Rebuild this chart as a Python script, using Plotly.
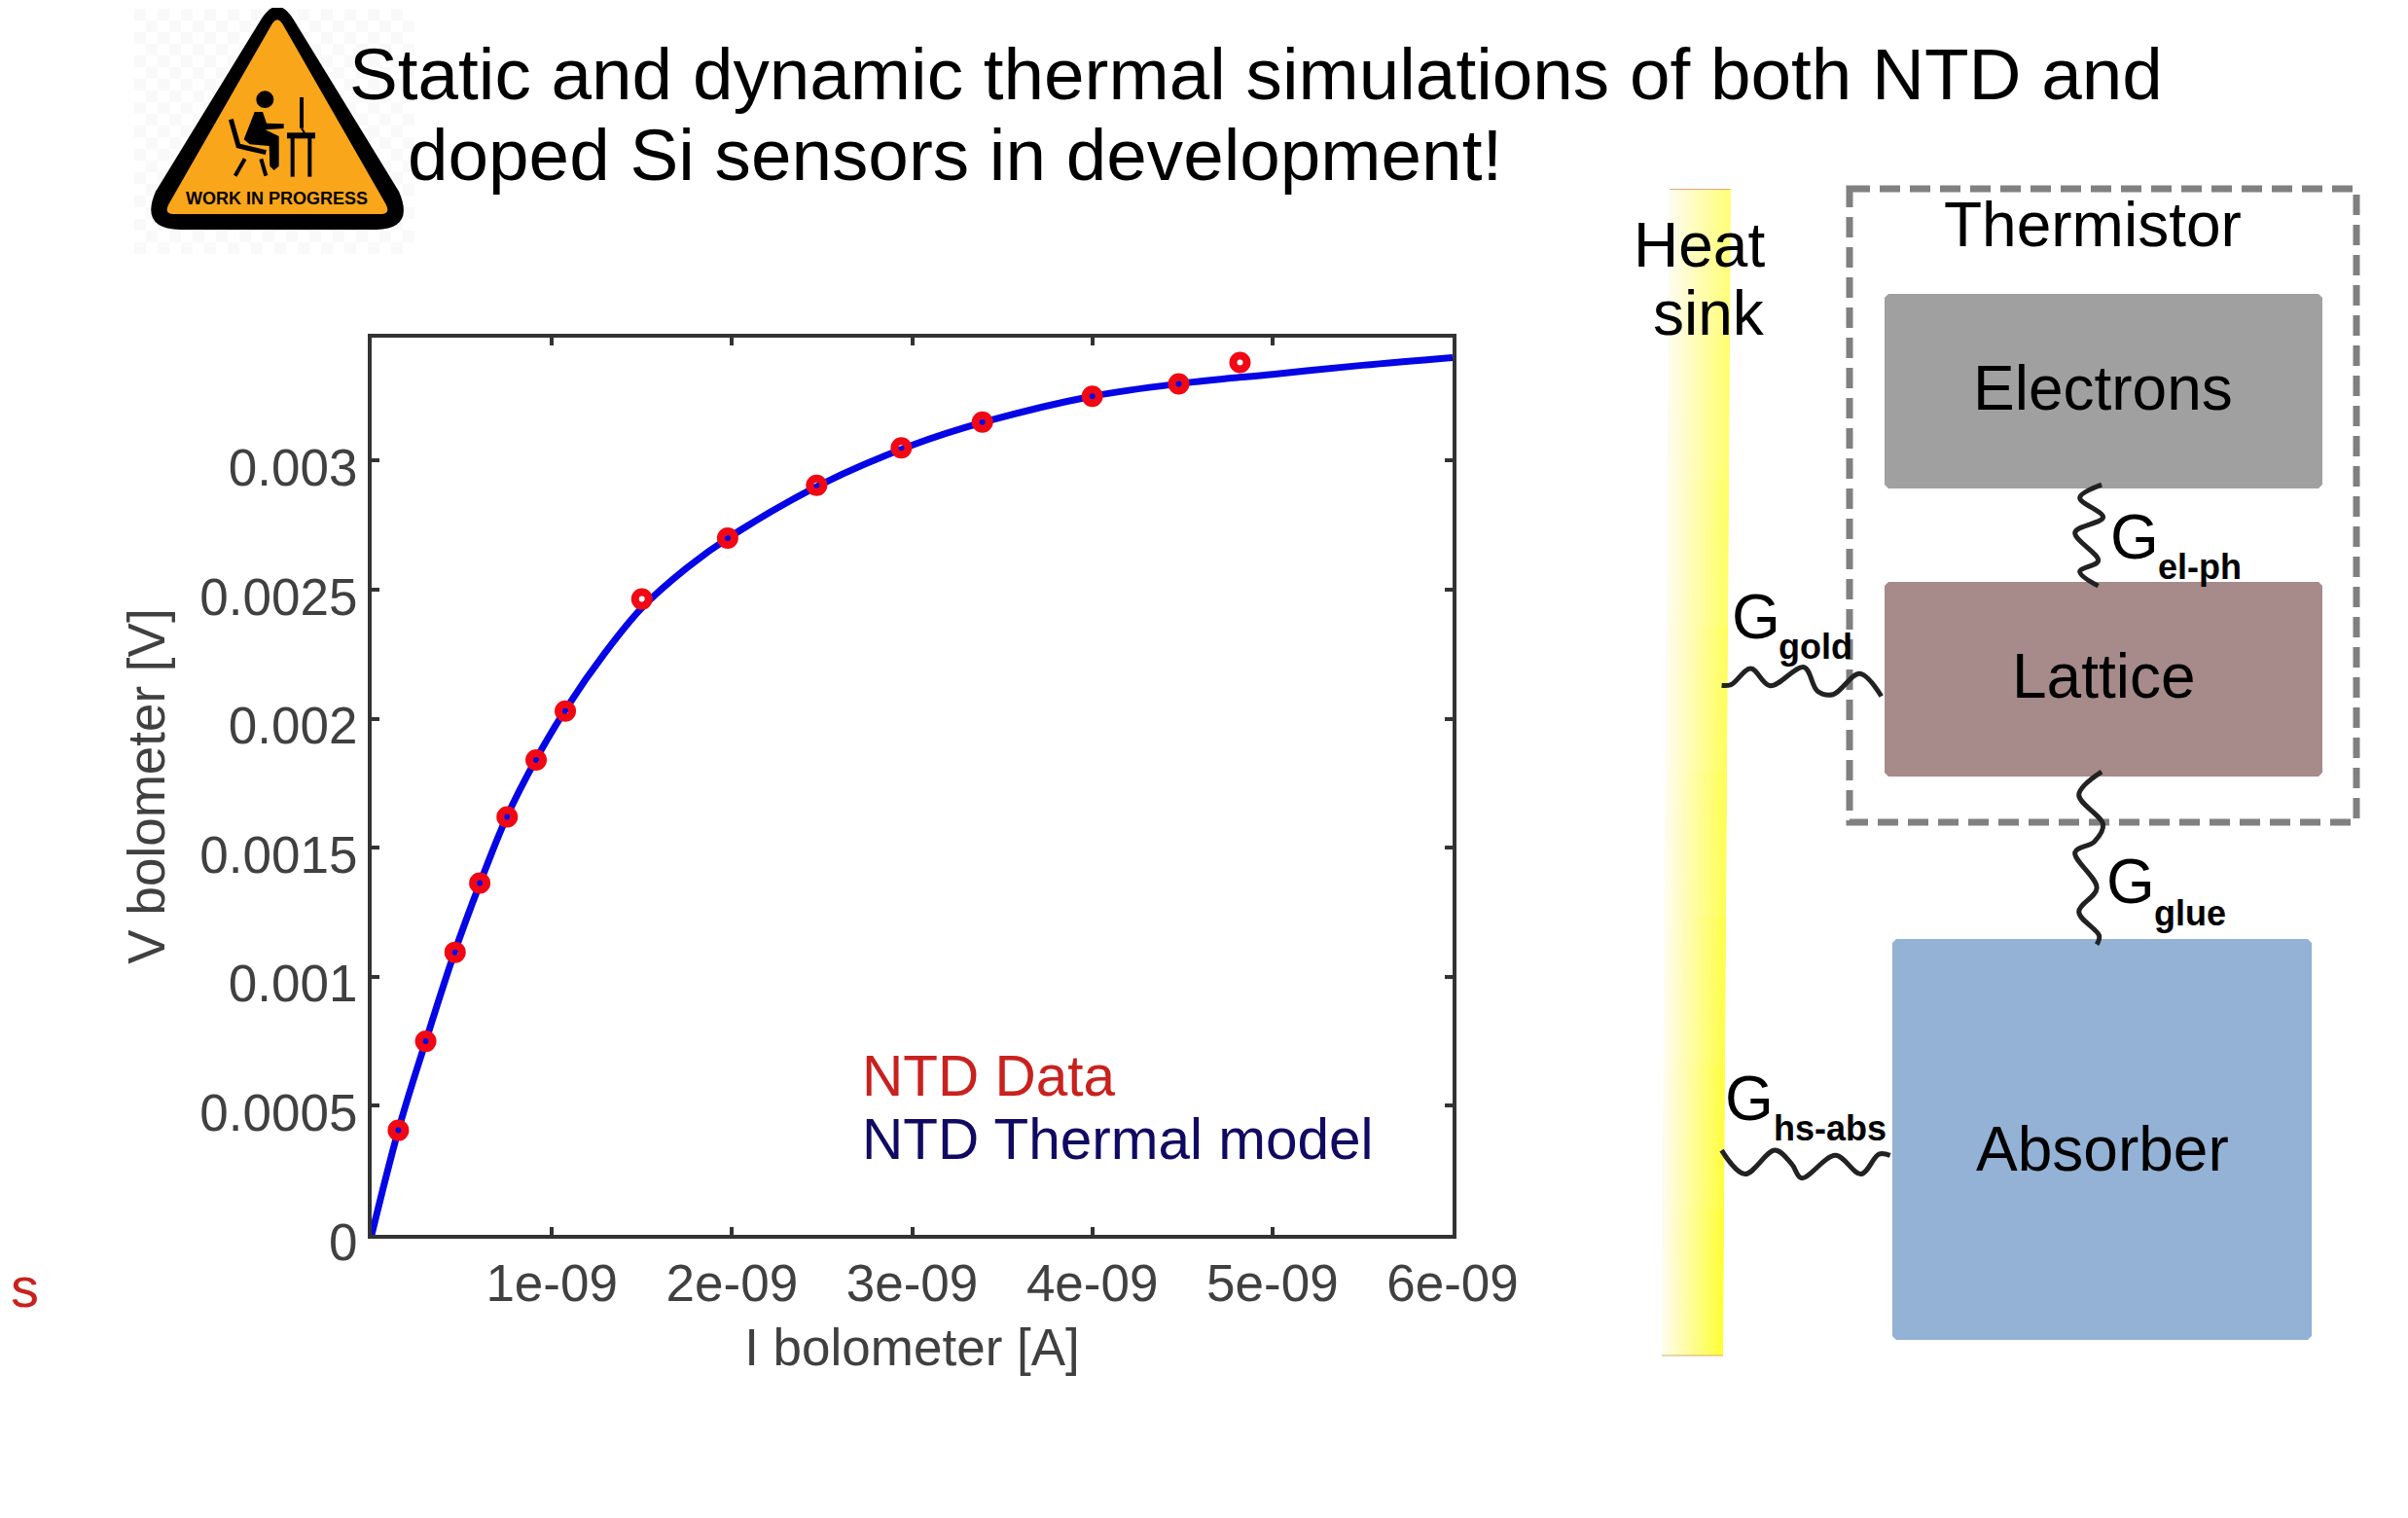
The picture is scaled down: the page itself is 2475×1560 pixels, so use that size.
import plotly.graph_objects as go

W, H = 2475, 1560
PAGE = 8  # the page's own margin around the figure
FONT = "Liberation Sans"

# ---------- chart data ----------
data_current = [1.48e-10, 3.0e-10, 4.63e-10, 6.0e-10, 7.52e-10, 9.13e-10, 1.075e-9, 1.5e-9,
                1.976e-9, 2.47e-9, 2.94e-9, 3.39e-9, 4.0e-9, 4.48e-9, 4.82e-9]
data_voltage = [0.000405, 0.00075, 0.001095, 0.001363, 0.00162, 0.00184, 0.00203, 0.002464,
                0.0027, 0.002905, 0.00305, 0.00315, 0.00325, 0.003298, 0.003381]
model_current = [0, 1.5e-10, 3.0e-10, 4.6e-10, 6.0e-10, 7.5e-10, 9.1e-10, 1.08e-9, 1.3e-9, 1.5e-9,
                 1.75e-9, 2.0e-9, 2.5e-9, 3.0e-9, 3.4e-9, 4.0e-9, 4.5e-9, 5.0e-9, 5.5e-9, 6.0e-9]
model_voltage = [0, 0.00041, 0.00075, 0.001095, 0.00136, 0.00162, 0.00184, 0.00204, 0.00226, 0.00243,
                 0.002585, 0.00271, 0.00291, 0.00306, 0.00315, 0.00325, 0.0033, 0.003335, 0.00337, 0.0034]
x_ticks = [1e-9, 2e-9, 3e-9, 4e-9, 5e-9, 6e-9]
x_labels = ["1e-09", "2e-09", "3e-09", "4e-09", "5e-09", "6e-09"]
y_ticks = [0, 0.0005, 0.001, 0.0015, 0.002, 0.0025, 0.003]
y_labels = ["0", "0.0005", "0.001", "0.0015", "0.002", "0.0025", "0.003"]

# ---------- diagram wiggles (page pixels) ----------
def zoom3(pts):
    return [1680 + p[0] / 2.01 for p in pts], [170 + p[1] / 2.24 for p in pts]

def zoom4(pts):
    return [1680 + p[0] / 2.01 for p in pts], [780 + p[1] / 2.45 for p in pts]

wiggle_el_ph = zoom3([(965, 735), (920, 765), (968, 810), (910, 845), (958, 910), (920, 935), (958, 968)])
wiggle_gold = zoom3([(180, 1197), (200, 1195), (240, 1158), (280, 1198), (350, 1155), (378, 1210),
                     (410, 1218), (465, 1170), (510, 1222)])
wiggle_glue = zoom4([(965, 32), (918, 90), (968, 165), (950, 208), (910, 235), (955, 325), (918, 385),
                     (960, 445), (955, 467)])
wiggle_hs = zoom4([(180, 985), (228, 1045), (290, 985), (325, 1020), (345, 1055), (415, 998),
                   (468, 1045), (505, 995), (528, 998)])

fig = go.Figure()
shapes = []
annotations = []

def page_shape(**kw):
    kw.update(xref="x2", yref="y2", layer="below")
    shapes.append(kw)

def rect(x0, y0, x1, y1, color, c=4):
    path = (f"M{x0+c},{y0} L{x1-c},{y0} L{x1},{y0+c} L{x1},{y1-c} L{x1-c},{y1} "
            f"L{x0+c},{y1} L{x0},{y1-c} L{x0},{y0+c} Z")
    page_shape(type="path", path=path, fillcolor=color, line=dict(width=0))

def text(x, y, s, size, color="#000000", anchor="left", bold=False):
    annotations.append(dict(x=x, y=y, xref="x2", yref="y2", text=f"<b>{s}</b>" if bold else s,
                            showarrow=False, xanchor=anchor, yanchor="middle",
                            font=dict(family=FONT, size=size, color=color)))

# ---------- faint checker behind the sign ----------
cell = 12
parts = []
for i in range(24):
    for j in range(21):
        if (i + j) % 2 == 0:
            x0 = 138 + i * cell
            y0 = 9 + j * cell
            parts.append(f"M{x0},{y0} L{x0+cell},{y0} L{x0+cell},{y0+cell} L{x0},{y0+cell} Z")
page_shape(type="path", path=" ".join(parts), fillcolor="#f9f9f9", line=dict(width=0))

# ---------- work-in-progress sign ----------
def sx(x): return 130 + x / 3
def sy(y): return y / 3

def spath(cmds):
    out = []
    for c in cmds:
        if c == "Z":
            out.append("Z")
        else:
            letter, pts = c
            if letter == "L":
                out.extend(f"L{sx(a)},{sy(b)}" for a, b in pts)
            else:
                out.append(letter + " ".join(f"{sx(a)},{sy(b)}" for a, b in pts))
    return " ".join(out)

outer = [("M", [(415, 60)]), ("Q", [(465, -20), (515, 60)]), ("L", [(840, 590)]),
         ("Q", [(890, 705), (770, 708)]), ("L", [(165, 708)]), ("Q", [(40, 705), (90, 590)]), "Z"]
inner = [("M", [(450, 72)]), ("Q", [(465, 50), (480, 72)]), ("L", [(800, 630)]),
         ("Q", [(815, 660), (785, 660)]), ("L", [(145, 660)]), ("Q", [(115, 660), (130, 630)]), "Z"]
page_shape(type="path", path=spath(outer), fillcolor="#000000", line=dict(width=0))
page_shape(type="path", path=spath(inner), fillcolor="#F9A61A", line=dict(width=0))
torso = [("M", [(395, 345)]), ("L", [(420, 345), (432, 380), (485, 382), (485, 396), (428, 400), (470, 420),
                                     (470, 512), (455, 525), (442, 512), (440, 450), (380, 445), (362, 430)]), "Z"]
page_shape(type="path", path=spath(torso), fillcolor="#000000", line=dict(width=0))
page_shape(type="circle", x0=sx(400), x1=sx(454), y0=sy(280), y1=sy(333), fillcolor="#000000", line=dict(width=0))
for cmd, lw in [([("M", [(322, 368)]), ("L", [(345, 450), (430, 470)])], 5),
                ([("M", [(365, 490)]), ("L", [(335, 542)])], 4),
                ([("M", [(415, 490)]), ("L", [(430, 542)])], 4),
                ([("M", [(495, 418)]), ("L", [(582, 418)])], 6),
                ([("M", [(512, 425)]), ("L", [(512, 545)])], 4),
                ([("M", [(565, 425)]), ("L", [(565, 545)])], 4),
                ([("M", [(540, 300)]), ("L", [(540, 395)])], 4),
                ([("M", [(540, 395)]), ("L", [(550, 412)])], 2)]:
    page_shape(type="path", path=spath(cmd), line=dict(color="#000000", width=lw))
text(sx(462), sy(612), "WORK IN PROGRESS", 18, anchor="center", bold=True)

# ---------- heat sink: gradient across, slightly stronger towards the bottom ----------
n_across, n_down = 32, 8
top_l, top_r, bot_l, bot_r = 1716.0, 1778.5, 1708.0, 1771.0
sink_top, sink_bot = 194.5, 1393.0
for j in range(n_down):
    v0, v1 = j / n_down, (j + 1) / n_down
    y0, y1 = sink_top + (sink_bot - sink_top) * v0, sink_top + (sink_bot - sink_top) * v1
    left0, left1 = top_l + (bot_l - top_l) * v0, top_l + (bot_l - top_l) * v1
    blue_end = 125 - 75 * (j + 0.5) / n_down
    for i in range(n_across):
        a, b = i / n_across, (i + 1) / n_across
        t = (i + 0.5) / n_across
        col = f"rgb(255,{int(252 + 3 * t)},{int(242 + (blue_end - 242) * t)})"
        w = top_r - top_l
        path = (f"M{left0 + w * a},{y0} L{left0 + w * b},{y0} "
                f"L{left1 + w * b},{y1} L{left1 + w * a},{y1} Z")
        page_shape(type="path", path=path, fillcolor=col, line=dict(color=col, width=1))
page_shape(type="line", x0=top_l, x1=top_r, y0=sink_top, y1=sink_top, line=dict(color="#E0A878", width=1))
page_shape(type="line", x0=bot_l, x1=bot_r, y0=sink_bot, y1=sink_bot, line=dict(color="#E0A878", width=1))

# ---------- boxes ----------
rect(1937, 302, 2387, 502, "#A0A0A0")
rect(1937, 598, 2387, 798, "#A78A8A")
rect(1945, 965, 2376, 1377, "#93B2D5")
page_shape(type="rect", x0=1901, x1=2422, y0=194, y1=845,
           line=dict(color="#808080", width=7, dash="21px,10px"))

# ---------- chart traces ----------
fig.add_trace(go.Scatter(x=model_current, y=model_voltage, mode="lines",
                         line=dict(color="#0505E6", width=7, shape="spline"),
                         showlegend=False))
fig.add_trace(go.Scatter(x=data_current, y=data_voltage, mode="markers",
                         marker=dict(symbol="circle-open", size=14, color="#F00814",
                                     line=dict(width=8, color="#F00814")),
                         showlegend=False, cliponaxis=False))

# ---------- wiggles ----------
for wx, wy in [wiggle_el_ph, wiggle_gold, wiggle_glue, wiggle_hs]:
    fig.add_trace(go.Scatter(x=wx, y=wy, xaxis="x2", yaxis="y2", mode="lines", showlegend=False,
                             line=dict(color="#222222", width=5, shape="spline", smoothing=1.0)))

# ---------- texts ----------
text(357, 76, "Static and dynamic thermal simulations of both NTD and", 74.7)
text(417, 159, "doped Si sensors in development!", 74.7)
text(884, 1105, "NTD Data", 58.5, "#C9211E")
text(884, 1170, "NTD Thermal model", 58.5, "#110A62")
text(9, 1322, "s", 58, "#C9211E")
text(2151, 231, "Thermistor", 64, anchor="center")
text(2161, 399, "Electrons", 64, anchor="center")
text(2162, 695, "Lattice", 64, anchor="center")
text(2161, 1181, "Absorber", 64, anchor="center")
text(1816, 252, "Heat", 64, anchor="right")
text(1816, 322, "sink", 64, anchor="right")
for gx, gy, sx_, sy_, sub in [(2167, 552, 2216, 582, "el-ph"), (1778, 634, 1826, 664, "gold"),
                              (2163, 906, 2212, 938, "glue"), (1771, 1129, 1821, 1159, "hs-abs")]:
    text(gx, gy, "G", 64)
    text(sx_, sy_, sub, 36, bold=True)

FW, FH = W - PAGE, H - PAGE
axis_font = dict(family=FONT, size=53, color="#404040")
fig.update_layout(
    width=FW, height=FH, margin=dict(l=0, r=0, t=0, b=0), autosize=False,
    paper_bgcolor="white", plot_bgcolor="rgba(0,0,0,0)", showlegend=False,
    xaxis=dict(domain=[(382 - PAGE) / FW, (1493 - PAGE) / FW], range=[0, 6e-9], tickvals=x_ticks, ticktext=x_labels,
               ticks="inside", ticklen=8, tickwidth=4, tickcolor="#333333", showgrid=False, zeroline=False,
               showline=True, linewidth=4, linecolor="#333333", mirror="ticks", tickfont=axis_font,
               automargin=False,
               title=dict(text="I bolometer [A]", font=axis_font, standoff=20), anchor="y"),
    yaxis=dict(domain=[1 - (1269 - PAGE) / FH, 1 - (347 - PAGE) / FH], range=[0, 0.003477], tickvals=y_ticks,
               ticktext=y_labels,
               ticks="inside", ticklen=8, tickwidth=4, tickcolor="#333333", showgrid=False, zeroline=False,
               showline=True, linewidth=4, linecolor="#333333", mirror="ticks", tickfont=axis_font,
               ticklabelshift=7, automargin=False,
               title=dict(text="V bolometer [V]", font=axis_font, standoff=20), anchor="x"),
    xaxis2=dict(domain=[0, 1], range=[PAGE, W], visible=False, anchor="y2", fixedrange=True, automargin=False),
    yaxis2=dict(domain=[0, 1], range=[H, PAGE], visible=False, anchor="x2", fixedrange=True, automargin=False),
    shapes=shapes, annotations=annotations,
)
fig.write_html("out.html")
